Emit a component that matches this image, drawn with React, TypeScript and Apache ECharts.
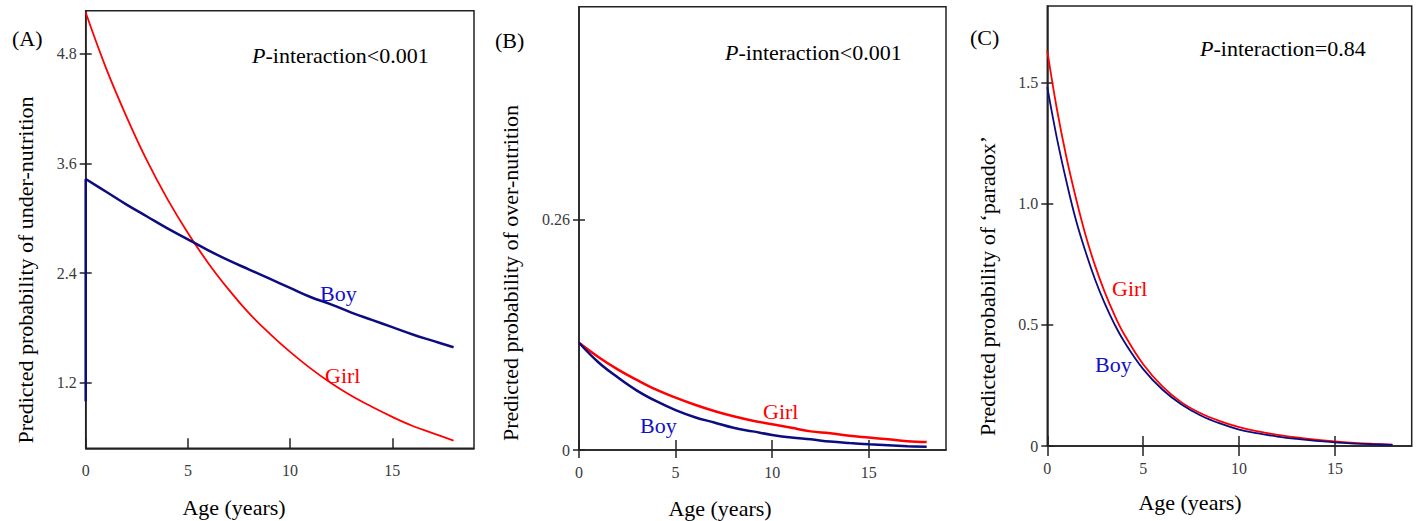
import React, { useEffect, useRef } from "react";
import * as echarts from "echarts";

// ---------- data ----------
const ages = [0, 1, 2, 3, 4, 5, 6, 7, 8, 9, 10, 11, 12, 13, 14, 15, 16, 17, 18];
const xTickValues = [0, 5, 10, 15];

// (A) under-nutrition
const underBoyStart = [1.0, 3.43]; // vertical segment at age 0
const underBoy = [3.43, 3.29, 3.15, 3.02, 2.89, 2.77, 2.65, 2.54, 2.44, 2.34, 2.24, 2.14, 2.06, 1.97, 1.89, 1.81, 1.73, 1.66, 1.59];
const underGirl = [5.25, 4.64, 4.11, 3.63, 3.21, 2.84, 2.51, 2.22, 1.96, 1.74, 1.54, 1.36, 1.2, 1.06, 0.94, 0.83, 0.73, 0.65, 0.57];
const underTicks = [1.2, 2.4, 3.6, 4.8];

// (B) over-nutrition
const overBoy = [0.121, 0.099, 0.082, 0.067, 0.055, 0.045, 0.037, 0.031, 0.025, 0.021, 0.017, 0.014, 0.012, 0.0095, 0.0078, 0.0064, 0.0053, 0.0043, 0.0036];
const overGirl = [0.121, 0.105, 0.091, 0.079, 0.068, 0.059, 0.051, 0.044, 0.038, 0.033, 0.029, 0.025, 0.021, 0.019, 0.016, 0.014, 0.012, 0.01, 0.009];
const overTicks = [0, 0.26];

// (C) paradox
const agesC = [0, 0.5, 1, 1.5, 2, 2.5, 3, 3.5, 4, 5, 6, 7, 8, 9, 10, 11, 12, 13, 14, 15, 16, 17, 18];
const paradoxGirl = [1.63, 1.39, 1.19, 1.02, 0.868, 0.742, 0.634, 0.541, 0.462, 0.337, 0.246, 0.18, 0.135, 0.103, 0.078, 0.06, 0.046, 0.035, 0.026, 0.019, 0.013, 0.009, 0.006];
const paradoxBoy = [1.48, 1.27, 1.09, 0.93, 0.8, 0.685, 0.587, 0.503, 0.432, 0.317, 0.233, 0.171, 0.126, 0.093, 0.068, 0.052, 0.039, 0.029, 0.021, 0.015, 0.01, 0.007, 0.005];
const paradoxTicks = [0, 0.5, 1.0, 1.5];

// ---------- styling ----------
const SERIF = "Liberation Serif";
const NARROW = "Liberation Sans Narrow";
const RED = "#ff0000";
const NAVY = "#0c0c80";
const BLUE_TXT = "#1010c8";
const AXIS = "#222";

const zip = (xs: number[], ys: number[]) => xs.map((x, i) => [x, ys[i]]);

type Panel = {
  grid: { left: number; top: number; width: number; height: number };
  yMin: number;
  yMax: number;
  yTicks: number[];
  yFmt: (v: number) => string;
  xIn: number;
  xOut: number;
};

const panels: Panel[] = [
  {
    grid: { left: 85.7, top: 10.7, width: 388.3, height: 437.6 },
    yMin: 0.486,
    yMax: 5.27,
    yTicks: underTicks,
    yFmt: (v) => v.toFixed(1),
    xIn: 10,
    xOut: 0,
  },
  {
    grid: { left: 579, top: 6.7, width: 367, height: 443.3 },
    yMin: 0,
    yMax: 0.5,
    yTicks: overTicks,
    yFmt: (v) => (v === 0 ? "0" : String(v)),
    xIn: 10,
    xOut: 8,
  },
  {
    grid: { left: 1047.3, top: 6, width: 364.4, height: 440 },
    yMin: 0,
    yMax: 1.815,
    yTicks: paradoxTicks,
    yFmt: (v) => (v === 0 ? "0" : v.toFixed(1)),
    xIn: 10,
    xOut: 10,
  },
];

function buildOption() {
  const grid = panels.map((p) => ({
    ...p.grid,
    show: true,
    borderColor: AXIS,
    borderWidth: 1.5,
    backgroundColor: "transparent",
  }));

  const labelStyle = { fontFamily: NARROW, fontSize: 16, color: "#3a3a3a" };

  const xAxis: any[] = [];
  const yAxis: any[] = [];
  panels.forEach((p, i) => {
    xAxis.push({
      type: "value",
      gridIndex: i,
      min: 0,
      max: 19,
      position: "bottom",
      axisLine: { show: true, onZero: false, lineStyle: { color: AXIS, width: 1.5 } },
      axisTick: {
        show: p.xOut > 0,
        inside: false,
        length: p.xOut || 1,
        customValues: xTickValues,
        lineStyle: { color: AXIS, width: 1.5 },
      },
      axisLabel: { ...labelStyle, margin: 14, customValues: xTickValues },
      splitLine: { show: false },
    });
    xAxis.push({
      type: "value",
      gridIndex: i,
      min: 0,
      max: 19,
      position: "bottom",
      axisLine: { show: false, onZero: false },
      axisTick: {
        show: true,
        inside: true,
        length: p.xIn,
        customValues: xTickValues,
        lineStyle: { color: AXIS, width: 1.5 },
      },
      axisLabel: { show: false },
      splitLine: { show: false },
    });
    yAxis.push({
      type: "value",
      gridIndex: i,
      min: p.yMin,
      max: p.yMax,
      position: "left",
      axisLine: { show: true, onZero: false, lineStyle: { color: AXIS, width: 1.5 } },
      axisTick: {
        show: true,
        inside: false,
        length: 6,
        customValues: p.yTicks,
        lineStyle: { color: AXIS, width: 1.5 },
      },
      axisLabel: { ...labelStyle, margin: 9, customValues: p.yTicks, formatter: p.yFmt },
      splitLine: { show: false },
    });
    yAxis.push({
      type: "value",
      gridIndex: i,
      min: p.yMin,
      max: p.yMax,
      position: "left",
      axisLine: { show: false, onZero: false },
      axisTick: {
        show: true,
        inside: true,
        length: 6,
        customValues: p.yTicks,
        lineStyle: { color: AXIS, width: 1.5 },
      },
      axisLabel: { show: false },
      splitLine: { show: false },
    });
  });

  const line = (name: string, panel: number, data: number[][], color: string, width: number) => ({
    name,
    type: "line",
    xAxisIndex: panel * 2,
    yAxisIndex: panel * 2,
    data,
    showSymbol: false,
    symbol: "none",
    smooth: 0.4,
    clip: false,
    lineStyle: { color, width },
    itemStyle: { color },
    z: 5,
  });

  const series = [
    line("Girl A", 0, zip(ages, underGirl), RED, 1.8),
    line("Boy A", 0, zip(ages, underBoy), NAVY, 2.5),
    { ...line("Boy A start", 0, [[0, underBoyStart[0]], [0, underBoyStart[1]]], NAVY, 2.5), smooth: false },
    line("Girl B", 1, zip(ages, overGirl), RED, 2.5),
    line("Boy B", 1, zip(ages, overBoy), NAVY, 2.5),
    line("Girl C", 2, zip(agesC, paradoxGirl), RED, 1.8),
    line("Boy C", 2, zip(agesC, paradoxBoy), NAVY, 1.8),
  ];

  const txt = (text: string, x: number, y: number, opts: any = {}) => ({
    type: "text",
    x,
    y,
    rotation: opts.rotation || 0,
    z: 10,
    style: {
      legacy: false,
      text,
      fill: opts.color || "#000",
      font: `${opts.size || 22}px ${SERIF}`,
      fontFamily: SERIF,
      fontSize: opts.size || 22,
      align: opts.align || "left",
      verticalAlign: "middle",
      rich: opts.rich,
    },
  });
  const pRich = {
    i: { fontStyle: "italic", fontFamily: SERIF, fontSize: 22, fill: "#000" },
    n: { fontFamily: SERIF, fontSize: 22, fill: "#000" },
  };

  const graphic = [
    // panel letters
    txt("(A)", 12, 38),
    txt("(B)", 495, 40),
    txt("(C)", 970, 37),
    // p-values
    txt("{i|P}{n|-interaction<0.001}", 252, 55, { rich: pRich }),
    txt("{i|P}{n|-interaction<0.001}", 725, 52, { rich: pRich }),
    txt("{i|P}{n|-interaction=0.84}", 1200, 48, { rich: pRich }),
    // y titles
    txt("Predicted probability of under-nutrition", 25, 270, { align: "center", rotation: Math.PI / 2 }),
    txt("Predicted probability of over-nutrition", 510, 273, { align: "center", rotation: Math.PI / 2 }),
    txt("Predicted probability of \u2018paradox\u2019", 987, 286, { align: "center", rotation: Math.PI / 2 }),
    // x titles
    txt("Age (years)", 234, 507, { align: "center" }),
    txt("Age (years)", 720, 508, { align: "center" }),
    txt("Age (years)", 1190, 502, { align: "center" }),
    // series labels
    txt("Boy", 320, 293, { color: BLUE_TXT }),
    txt("Girl", 325, 375, { color: RED }),
    txt("Boy", 640, 425, { color: BLUE_TXT }),
    txt("Girl", 763, 411, { color: RED }),
    txt("Girl", 1112, 288, { color: RED }),
    txt("Boy", 1095, 364, { color: BLUE_TXT }),
  ];

  return {
    animation: false,
    backgroundColor: "#fff",
    grid,
    xAxis,
    yAxis,
    series,
    graphic,
  };
}

export default function App() {
  const ref = useRef<HTMLDivElement>(null);
  useEffect(() => {
    if (!ref.current) return;
    const chart = echarts.init(ref.current, undefined, { renderer: "svg" });
    chart.setOption(buildOption() as any);
    return () => chart.dispose();
  }, []);
  return (
    <div
      ref={ref}
      style={{ position: "fixed", left: 0, top: 0, width: 1416, height: 521, background: "#fff" }}
    />
  );
}
